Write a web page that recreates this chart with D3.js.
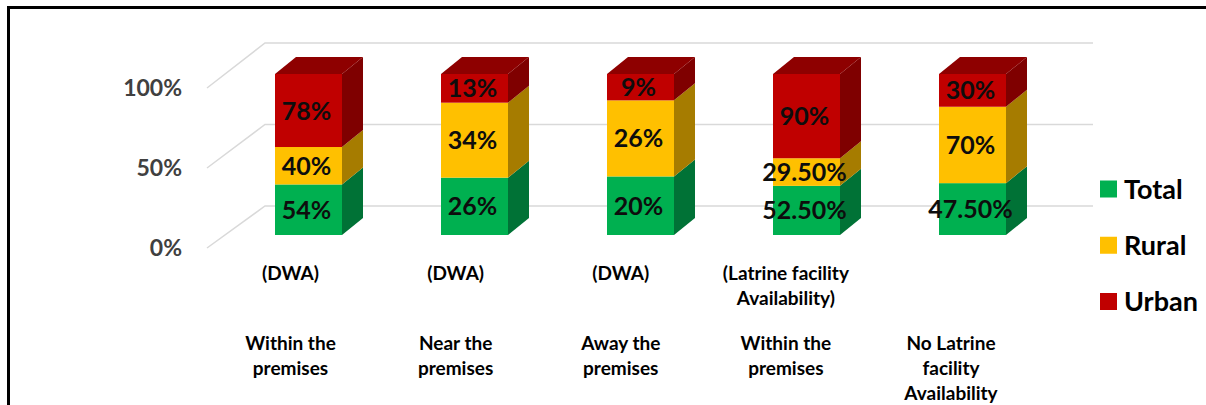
<!DOCTYPE html>
<html><head><meta charset="utf-8">
<script src="https://cdn.jsdelivr.net/npm/d3@7"></script>
<style>
html,body{margin:0;padding:0;background:#fff;overflow:hidden;}
svg{display:block;font-family:Lato,"Open Sans",sans-serif;font-weight:bold;}
</style></head>
<body>
<svg id="c" width="1206" height="405"></svg>
<script>
const categoriesTop = [["(DWA)"],["(DWA)"],["(DWA)"],["(Latrine facility","Availability)"],[]];
const categoriesBottom = [["Within the","premises"],["Near the","premises"],["Away the","premises"],["Within the","premises"],["No Latrine","facility","Availability"]];
const seriesNames = ["Total","Rural","Urban"];
const total = [54, 26, 20, 52.5, 47.5];
const rural = [40, 34, 26, 29.5, 70];
const urban = [78, 13, 9, 90, 30];
const yTicks = [0, 50, 100];

const colors = {Total:"#00B050", Rural:"#FFC000", Urban:"#C00000"};
const sideColors = {Total:"#007236", Rural:"#A67C00", Urban:"#7F0000"};
const topColors = {Total:"#008A42", Rural:"#C79600", Urban:"#8E0000"};

const svg = d3.select("#c");
// frame
svg.append("rect").attr("x",8.5).attr("y",7.5).attr("width",1300).attr("height",500)
  .attr("fill","none").attr("stroke","#000").attr("stroke-width",3);

const n = total.length;
const rows = d3.range(n).map(i => ({i, Total: total[i], Rural: rural[i], Urban: urban[i]}));
const stack = d3.stack().keys(seriesNames).offset(d3.stackOffsetExpand);
const stacked = stack(rows);

const x = d3.scalePoint().domain(d3.range(n)).range([308.5, 972.5]);
const xLabel = d3.scalePoint().domain(d3.range(n)).range([290.5, 951]);
const barW = 67, dx = 21, dy = -17;
// front face of bars
const y = d3.scaleLinear().domain([0,1]).range([235, 74]);
// side wall front edge and back wall
const yFront = d3.scaleLinear().domain([0,100]).range([248, 88]);
const yBack = d3.scaleLinear().domain([0,100]).range([206, 43]);
const xWallFront = 207, xWallBack = 265, xWallEnd = 1093;

const grid = svg.append("g");
yTicks.forEach(t => {
  grid.append("path")
    .attr("d", `M${xWallFront},${yFront(t)}L${xWallBack},${yBack(t)}L${xWallEnd},${yBack(t)}`)
    .attr("fill","none").attr("stroke","#D9D9D9").attr("stroke-width",1.5);
  svg.append("text").attr("x",182).attr("y",yFront(t)).attr("dy","0.36em")
    .attr("text-anchor","end").attr("font-size",23).attr("fill","#404040")
    .text(t + "%");
});

const fmt = v => Number.isInteger(v) ? v + "%" : v.toFixed(2) + "%";

const bars = svg.append("g");
stacked.forEach((layer, li) => {
  const key = layer.key;
  layer.forEach((d, i) => {
    const cx = x(i), x0 = cx - barW/2, x1 = cx + barW/2;
    const yt = y(d[1]), yb = y(d[0]);
    const g = bars.append("g");
    g.append("rect").attr("x",x0).attr("y",yt).attr("width",barW).attr("height",yb-yt).attr("fill",colors[key]);
    g.append("path").attr("d",`M${x1},${yb}L${x1+dx},${yb+dy}L${x1+dx},${yt+dy}L${x1},${yt}Z`).attr("fill",sideColors[key]);
    if (li === stacked.length-1) {
      g.append("path").attr("d",`M${x0},${yt}L${x0+dx},${yt+dy}L${x1+dx},${yt+dy}L${x1},${yt}Z`).attr("fill",topColors[key]);
    }
  });
});
// data labels
stacked.forEach(layer => {
  const key = layer.key;
  const vals = {Total:total, Rural:rural, Urban:urban}[key];
  layer.forEach((d, i) => {
    svg.append("text").attr("x", x(i) - 2).attr("y", (y(d[0]) + y(d[1]))/2).attr("dy","0.36em")
      .attr("text-anchor","middle").attr("font-size",25).attr("fill","#0D0D0D")
      .text(fmt(vals[i]));
  });
});

// category labels
categoriesTop.forEach((lines, i) => {
  lines.forEach((s, k) => {
    svg.append("text").attr("x", xLabel(i)).attr("y", 273 + k*25).attr("dy","0.36em")
      .attr("text-anchor","middle").attr("font-size",19).attr("fill","#000").text(s);
  });
});
categoriesBottom.forEach((lines, i) => {
  lines.forEach((s, k) => {
    svg.append("text").attr("x", xLabel(i)).attr("y", 343 + k*25).attr("dy","0.36em")
      .attr("text-anchor","middle").attr("font-size",19).attr("fill","#000").text(s);
  });
});

// legend
const legendY = d3.scalePoint().domain(seriesNames).range([189, 301.5]);
seriesNames.forEach(s => {
  svg.append("rect").attr("x",1100).attr("y",legendY(s)-8.5).attr("width",17).attr("height",17).attr("fill",colors[s]);
  svg.append("text").attr("x",1124).attr("y",legendY(s)).attr("dy","0.36em")
    .attr("font-size",27).attr("fill","#000").text(s);
});
</script>
</body></html>
